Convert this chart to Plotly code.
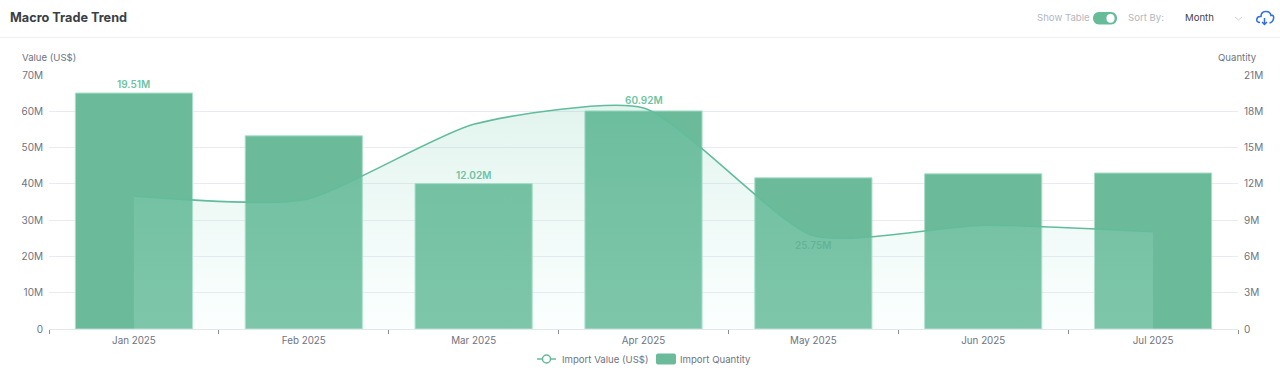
import plotly.graph_objects as go

months = ["Jan 2025", "Feb 2025", "Mar 2025", "Apr 2025", "May 2025", "Jun 2025", "Jul 2025"]
import_value = [36.7e6, 35.6e6, 56.4e6, 60.92e6, 25.75e6, 28.6e6, 26.8e6]
import_quantity = [19.51e6, 15.97e6, 12.02e6, 18.03e6, 12.5e6, 12.83e6, 12.9e6]
left_ticks = [0, 10e6, 20e6, 30e6, 40e6, 50e6, 60e6, 70e6]
left_labels = ["0", "10M", "20M", "30M", "40M", "50M", "60M", "70M"]
right_ticks = [0, 3e6, 6e6, 9e6, 12e6, 15e6, 18e6, 21e6]
right_labels = ["0", "3M", "6M", "9M", "12M", "15M", "18M", "21M"]
qty_label_months = ["Jan 2025", "Mar 2025"]
qty_label_vals = [19.51e6, 12.02e6]
qty_label_text = ["19.51M", "12.02M"]
val_label_months = ["Apr 2025"]
val_label_vals = [60.92e6]
val_label_text = ["60.92M"]
low_label_months = ["May 2025"]
low_label_vals = [25.75e6]
low_label_text = ["25.75M"]

W, H = 1280, 374
L, R, T, B = 49, 42, 75, 45
FONT = "Inter"
GREEN = "#62bc9b"
BAR = "#6bbb9b"
GRID = "#e9ebf3"
TICK = "#6e7480"
LABEL = "#6fc3a3"


def px(x):
    return (x - L) / (W - L - R)


def py(y):
    return 1 - (y - T) / (H - T - B)


def path(*parts):
    out = []
    for p in parts:
        if isinstance(p, str):
            out.append(p)
        else:
            out.append(f"{px(p[0]):.5f},{py(p[1]):.5f}")
    return " ".join(out)


fig = go.Figure()
fig.add_trace(go.Bar(
    x=months, y=import_quantity, name="Import Quantity", yaxis="y",
    marker=dict(color=BAR, line=dict(color="#a8e0ca", width=1)),
    width=0.69,
))
fig.add_trace(go.Scatter(
    x=months, y=import_value, name="Import Value (US$)", yaxis="y2", mode="lines",
    line=dict(color=GREEN, width=1.6, shape="spline", smoothing=0.6),
    fill="tozeroy",
    fillgradient=dict(type="vertical", colorscale=[
        [0, "rgba(225,255,250,0.16)"],
        [1, "rgba(110,198,170,0.2)"],
    ]),
    hoverinfo="skip",
))


def note(text, x, y, anchor="left", size=9.6, color=TICK, weight=400):
    return dict(text=text, x=px(x), y=py(y), xref="paper", yref="paper", xanchor=anchor, yanchor="middle",
                showarrow=False, borderpad=0, borderwidth=0,
                font=dict(family=FONT, size=size, color=color, weight=weight))


def data_label(x, y, text, yref, yanchor, yshift, color):
    return dict(x=x, y=y, text=text, xref="x", yref=yref, xanchor="center", yanchor=yanchor, yshift=yshift,
                showarrow=False, borderpad=0, borderwidth=0,
                font=dict(family=FONT, size=10, color=color, weight=600))


annotations = [
    note("Macro Trade Trend", 10, 18, size=12.7, color="#3b3f46", weight=700),
    note("Value (US$)", 22, 57.5),
    note("Quantity", 1257, 57.5, anchor="right"),
    note("Show Table", 1037, 18, color="#b3b7bf"),
    note("Sort By:", 1128, 18, color="#b3b7bf"),
    note("Month", 1185, 18, color="#3f434c"),
    note("Import Value (US$)", 562, 359),
    note("Import Quantity", 680, 359),
]
for mx, vy, tx in zip(qty_label_months, qty_label_vals, qty_label_text):
    annotations.append(data_label(mx, vy, tx, "y", "bottom", 3, LABEL))
for mx, vy, tx in zip(val_label_months, val_label_vals, val_label_text):
    annotations.append(data_label(mx, vy, tx, "y2", "bottom", 2, LABEL))
for mx, vy, tx in zip(low_label_months, low_label_vals, low_label_text):
    annotations.append(data_label(mx, vy, tx, "y2", "top", -3, "rgba(70,160,128,0.45)"))

toggle = path("M", (1099, 12), "L", (1111, 12), "C", (1119, 12), (1119, 24.5), (1111, 24.5),
              "L", (1099, 24.5), "C", (1091, 24.5), (1091, 12), (1099, 12), "Z")
knob = path("M", (1110.5, 13.7), "C", (1116, 13.7), (1116, 22.8), (1110.5, 22.8),
            "C", (1105, 22.8), (1105, 13.7), (1110.5, 13.7), "Z")
chevron = path("M", (1235, 17), "L", (1238.5, 20), "L", (1242, 17))
cloud = path("M", (1260, 22.5), "C", (1255, 22.5), (1256, 16), (1261, 16.5),
             "C", (1261, 10), (1270, 10), (1271, 15.5), "C", (1276, 14), (1273, 24), (1269.5, 22.5))
arrow = path("M", (1264.5, 18), "L", (1264.5, 24.5), "M", (1262, 22), "L", (1264.5, 24.5), "L", (1267, 22))
swatch = path("M", (658, 353.5), "L", (674, 353.5), "Q", (676, 353.5), (676, 355.5), "L", (676, 362.5),
              "Q", (676, 364.5), (674, 364.5), "L", (658, 364.5), "Q", (656, 364.5), (656, 362.5),
              "L", (656, 355.5), "Q", (656, 353.5), (658, 353.5), "Z")

paper = dict(xref="paper", yref="paper")
shapes = [
    dict(type="line", x0=px(0), x1=px(W), y0=py(37.5), y1=py(37.5), line=dict(color="#eff0f5", width=1), **paper),
    dict(type="path", path=toggle, fillcolor="#66bb99", line=dict(width=0), **paper),
    dict(type="path", path=knob, fillcolor="white", line=dict(width=0), **paper),
    dict(type="path", path=chevron, line=dict(color="#cfd2d8", width=1), **paper),
    dict(type="path", path=cloud, line=dict(color="#2f6fe0", width=1.5), **paper),
    dict(type="path", path=arrow, line=dict(color="#2f6fe0", width=1.5), **paper),
    dict(type="line", x0=px(537), x1=px(556), y0=py(359), y1=py(359), line=dict(color=GREEN, width=1.5), **paper),
    dict(type="circle", x0=px(542.5), x1=px(550.5), y0=py(363), y1=py(355), fillcolor="white",
         line=dict(color=GREEN, width=1.5), **paper),
    dict(type="path", path=swatch, fillcolor=BAR, line=dict(width=0), **paper),
]

fig.update_layout(
    width=W, height=H, margin=dict(l=L, r=R, t=T, b=B, pad=0),
    paper_bgcolor="white", plot_bgcolor="white",
    font=dict(family=FONT, size=10, color=TICK),
    xaxis=dict(type="category", categoryorder="array", categoryarray=months, range=[-0.5, 6.5],
               tickson="boundaries", ticks="outside", ticklen=4, tickwidth=1, tickcolor="#8a8f99",
               showline=True, linecolor="#e4e6ee", linewidth=1, showgrid=False, ticklabelstandoff=2,
               tickfont=dict(family=FONT, size=9.8, color=TICK)),
    yaxis=dict(side="right", range=[0, 21e6], tickmode="array", tickvals=right_ticks, ticktext=right_labels,
               showgrid=True, gridcolor=GRID, gridwidth=1, zeroline=False,
               ticks="outside", ticklen=3, tickcolor="rgba(0,0,0,0)",
               tickfont=dict(family=FONT, size=10, color=TICK)),
    yaxis2=dict(side="left", overlaying="y", range=[0, 70e6], tickmode="array", tickvals=left_ticks,
                ticktext=left_labels, showgrid=False, zeroline=False,
                ticks="outside", ticklen=3, tickcolor="rgba(0,0,0,0)",
                tickfont=dict(family=FONT, size=10, color=TICK)),
    barmode="overlay",
    annotations=annotations,
    shapes=shapes,
    showlegend=False,
    hovermode=False,
)

fig.write_html("out.html", config={"displayModeBar": False},
               post_script="document.body.style.margin='0';document.documentElement.style.overflow='hidden';")
